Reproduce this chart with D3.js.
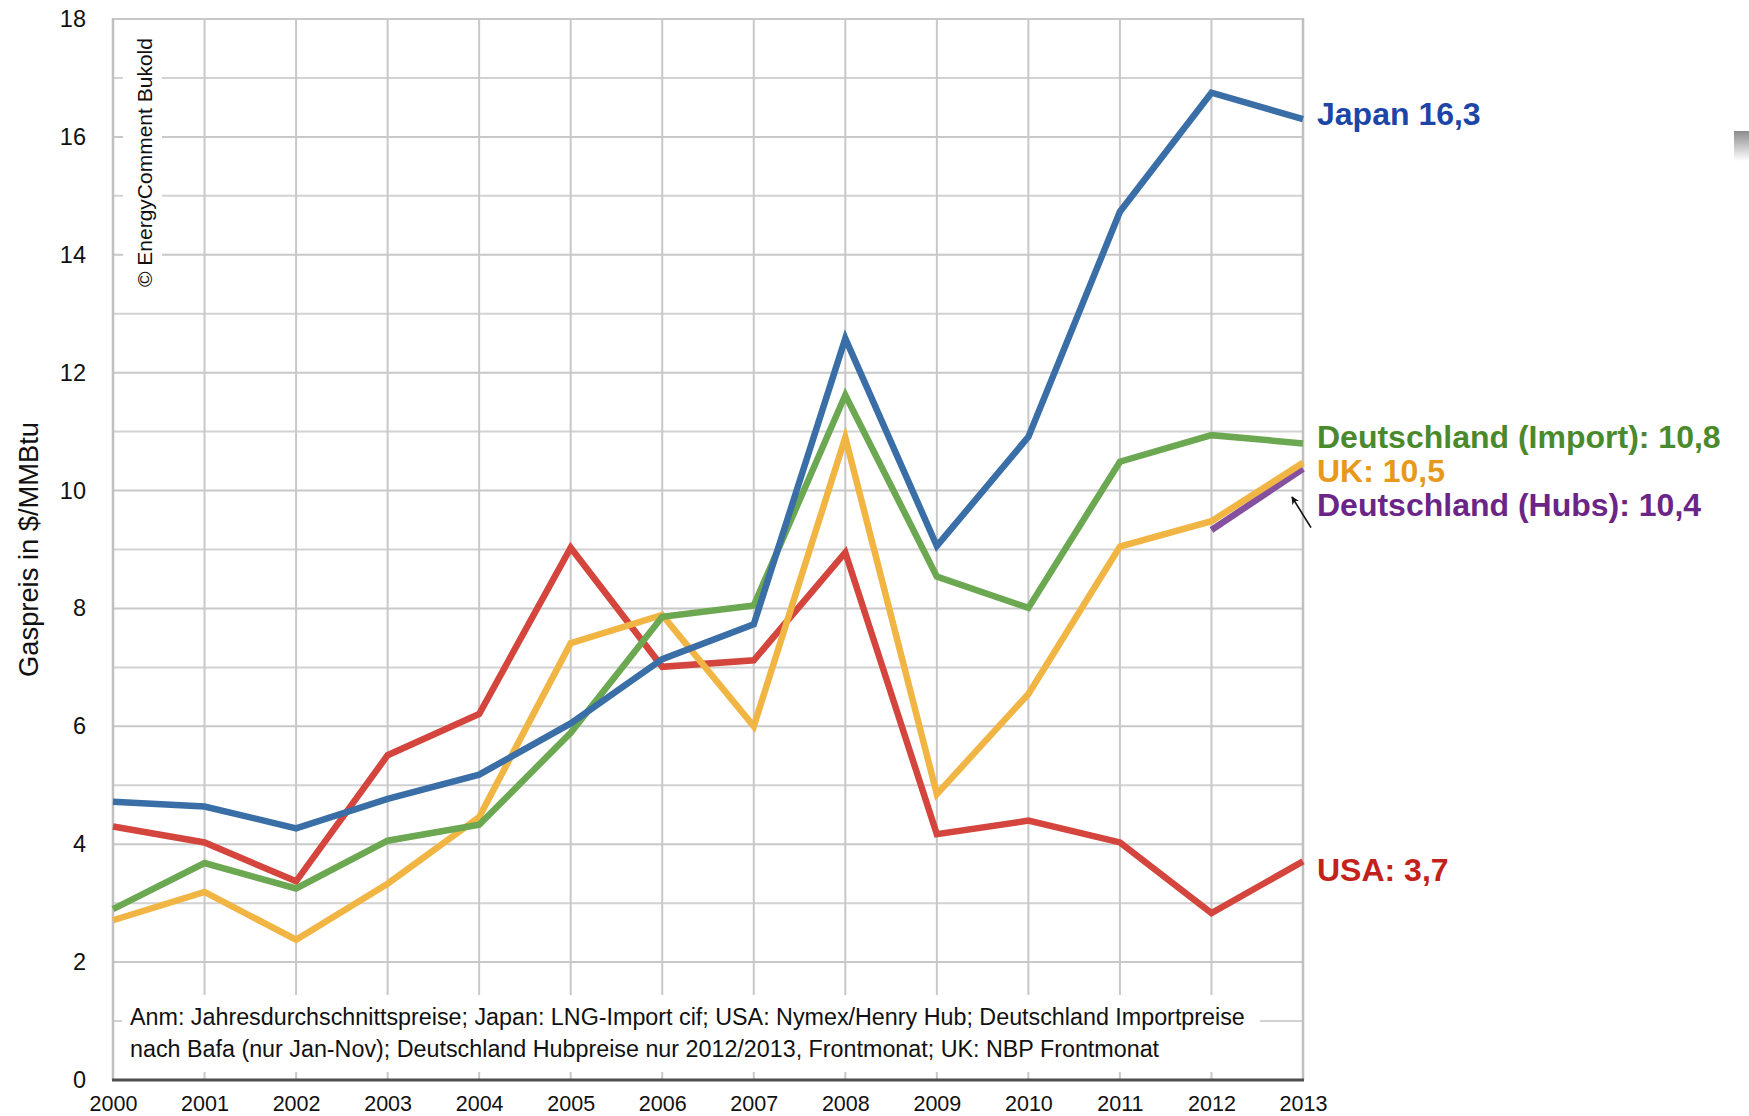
<!DOCTYPE html>
<html>
<head lang="de">
    <meta charset="UTF-8">
    <title>Gaspreise 2000-2013</title>
    <script type="text/javascript" src="https://d3js.org/d3.v7.min.js"></script>
    <style type="text/css">
        body { margin: 0; background: #fff; }
        svg { display: block; font-family: "Liberation Sans", Arial, Helvetica, sans-serif; }
        .hgrid { stroke: #c8c8c8; stroke-width: 2; }
        .hgrid.minor { stroke: #d2d2d2; }
        .vgrid { stroke: #c8c8c8; stroke-width: 2; }
        .frame { stroke: #c0c0c0; stroke-width: 2.5; }
        .serie { fill: none; stroke-width: 6.5; stroke-linejoin: miter; stroke-linecap: butt; }
        .endlabel { font-weight: bold; font-size: 32px; }
        .axis text { fill: #111; }
    </style>
</head>
<body>
<script type="text/javascript">
    // Werte (Jahresdurchschnitt, $/MMBtu)
    var years  = [2000, 2001, 2002, 2003, 2004, 2005, 2006, 2007, 2008, 2009, 2010, 2011, 2012, 2013];
    var japan  = [4.72, 4.64, 4.27, 4.77, 5.18, 6.05, 7.14, 7.73, 12.58, 9.06, 10.91, 14.73, 16.75, 16.3];
    var usa    = [4.30, 4.03, 3.37, 5.51, 6.21, 9.03, 7.01, 7.12, 8.95, 4.17, 4.40, 4.03, 2.83, 3.71];
    var deImp  = [2.90, 3.68, 3.25, 4.06, 4.33, 5.89, 7.86, 8.05, 11.62, 8.54, 8.01, 10.49, 10.94, 10.8];
    var uk     = [2.71, 3.19, 2.38, 3.33, 4.46, 7.41, 7.89, 6.00, 10.90, 4.85, 6.55, 9.05, 9.48, 10.47];
    var hubYears = [2012, 2013];
    var deHubs   = [9.33, 10.37];

    var yTicks = [0, 2, 4, 6, 8, 10, 12, 14, 16, 18];
    var yTitle = "Gaspreis in $/MMBtu";
    var credit = "\u00A9 EnergyComment Bukold";
    var noteLines = [
        "Anm: Jahresdurchschnittspreise; Japan: LNG-Import cif; USA: Nymex/Henry Hub; Deutschland Importpreise",
        "nach Bafa (nur Jan-Nov); Deutschland Hubpreise nur 2012/2013, Frontmonat; UK: NBP Frontmonat"
    ];

    var W = 1749, H = 1116;
    var pLeft = 113, pRight = 1303, pTop = 19, pBottom = 1080;

    var x = d3.scaleLinear().domain([2000, 2013]).range([pLeft, pRight]);
    var y = d3.scaleLinear().domain([0, 18]).range([pBottom, pTop]);

    var svg = d3.select("body").append("svg")
        .attr("width", W).attr("height", H);

    // Gitter
    svg.append("g").selectAll("line").data(d3.range(1, 19)).enter().append("line")
        .attr("class", function(d){ return d % 2 ? "hgrid minor" : "hgrid"; })
        .attr("x1", pLeft).attr("x2", pRight)
        .attr("y1", function(d){ return y(d); }).attr("y2", function(d){ return y(d); });
    svg.append("g").selectAll("line").data(years.slice(1, -1)).enter().append("line")
        .attr("class", "vgrid")
        .attr("x1", function(d){ return x(d); }).attr("x2", function(d){ return x(d); })
        .attr("y1", pTop).attr("y2", pBottom);
    svg.append("line").attr("class", "frame")
        .attr("x1", pLeft).attr("x2", pLeft).attr("y1", pTop - 1).attr("y2", pBottom);
    svg.append("line").attr("class", "frame")
        .attr("x1", pRight).attr("x2", pRight).attr("y1", pTop - 1).attr("y2", pBottom);

    // Copyright-Vermerk (senkrecht, weisser Hintergrund)
    svg.append("rect").attr("x", 123).attr("y", 28).attr("width", 39).attr("height", 266).attr("fill", "#fff");
    svg.append("text")
        .attr("transform", "translate(152,287) rotate(-90)")
        .attr("font-size", "21px").attr("fill", "#111")
        .text(credit);

    // Anmerkung
    svg.append("rect").attr("x", 122).attr("y", 995).attr("width", 1138).attr("height", 77).attr("fill", "#fff");
    svg.append("g").selectAll("text").data(noteLines).enter().append("text")
        .attr("x", 130).attr("y", function(d, i){ return 1025 + i * 32; })
        .attr("font-size", "23.3px").attr("fill", "#111")
        .text(function(d){ return d; });

    // Achsen
    var yAxis = svg.append("g").attr("class", "axis")
        .attr("transform", "translate(" + pLeft + ",0)")
        .call(d3.axisLeft(y).tickValues(yTicks).tickSize(0).tickPadding(27));
    yAxis.select(".domain").remove();
    yAxis.selectAll("text").attr("font-size", "23.5px").attr("font-family", null);

    var xAxis = svg.append("g").attr("class", "axis")
        .attr("transform", "translate(0," + pBottom + ")")
        .call(d3.axisBottom(x).tickValues(years).tickFormat(d3.format("d")).tickSize(0).tickPadding(16));
    xAxis.select(".domain").remove();
    xAxis.selectAll("text").attr("font-size", "21.5px").attr("font-family", null);

    svg.append("line")
        .attr("x1", pLeft - 1).attr("x2", pRight + 1)
        .attr("y1", pBottom).attr("y2", pBottom)
        .attr("stroke", "#4d4d4d").attr("stroke-width", 3);

    svg.append("text")
        .attr("transform", "translate(38," + ((pTop + pBottom) / 2) + ") rotate(-90)")
        .attr("text-anchor", "middle").attr("font-size", "27.3px").attr("fill", "#111")
        .text(yTitle);

    // Linien
    var line = d3.line()
        .x(function(d){ return x(d[0]); })
        .y(function(d){ return y(d[1]); });

    var series = [
        { name: "hubs",  xs: hubYears, vals: deHubs, color: "#85519f", w: 8.5 },
        { name: "usa",   xs: years, vals: usa,   color: "#d4453d", w: 6.5 },
        { name: "uk",    xs: years, vals: uk,    color: "#f1b543", w: 6.5 },
        { name: "deimp", xs: years, vals: deImp, color: "#6ba851", w: 6.5 },
        { name: "japan", xs: years, vals: japan, color: "#3a6ea6", w: 6.5 }
    ];
    svg.append("g").selectAll("path").data(series).enter().append("path")
        .attr("class", "serie")
        .attr("stroke", function(d){ return d.color; })
        .attr("stroke-width", function(d){ return d.w; })
        .attr("d", function(d){ return line(d3.zip(d.xs, d.vals)); });

    // Beschriftungen am Ende
    var labels = [
        { text: "Japan 16,3",                 vals: japan,  color: "#1c46a6", dy: 6 },
        { text: "Deutschland (Import): 10,8", vals: deImp,  color: "#4b8a2c", dy: 5 },
        { text: "UK: 10,5",                   vals: uk,     color: "#e8991b", dy: 19 },
        { text: "Deutschland (Hubs): 10,4",   vals: deHubs, color: "#6a2587", dy: 47 },
        { text: "USA: 3,7",                   vals: usa,    color: "#c2221b", dy: 20 }
    ];
    svg.append("g").selectAll("text").data(labels).enter().append("text")
        .attr("class", "endlabel")
        .attr("x", x(2013) + 14)
        .attr("y", function(d){ return y(d.vals[d.vals.length - 1]) + d.dy; })
        .attr("fill", function(d){ return d.color; })
        .text(function(d){ return d.text; });

    // Pfeil zur Hub-Linie
    svg.append("defs").append("marker")
        .attr("id", "pfeil").attr("viewBox", "0 0 10 10")
        .attr("refX", 9).attr("refY", 5)
        .attr("markerWidth", 5).attr("markerHeight", 5)
        .attr("orient", "auto")
        .append("path").attr("d", "M0,0 L10,5 L0,10 L3,5 Z").attr("fill", "#111");
    svg.append("line")
        .attr("x1", x(2013) + 8).attr("y1", y(9.37))
        .attr("x2", x(2013) - 11).attr("y2", y(9.89))
        .attr("stroke", "#111").attr("stroke-width", 1.6)
        .attr("marker-end", "url(#pfeil)");

    // grauer Schatten am rechten Rand
    var grad = svg.select("defs").append("linearGradient")
        .attr("id", "schatten").attr("x1", 0).attr("y1", 0).attr("x2", 0).attr("y2", 1);
    grad.append("stop").attr("offset", "0").attr("stop-color", "#8c8c8c");
    grad.append("stop").attr("offset", "1").attr("stop-color", "#ffffff");
    svg.append("rect").attr("x", 1734).attr("y", 131).attr("width", 15).attr("height", 30)
        .attr("fill", "url(#schatten)");
</script>
</body>
</html>
